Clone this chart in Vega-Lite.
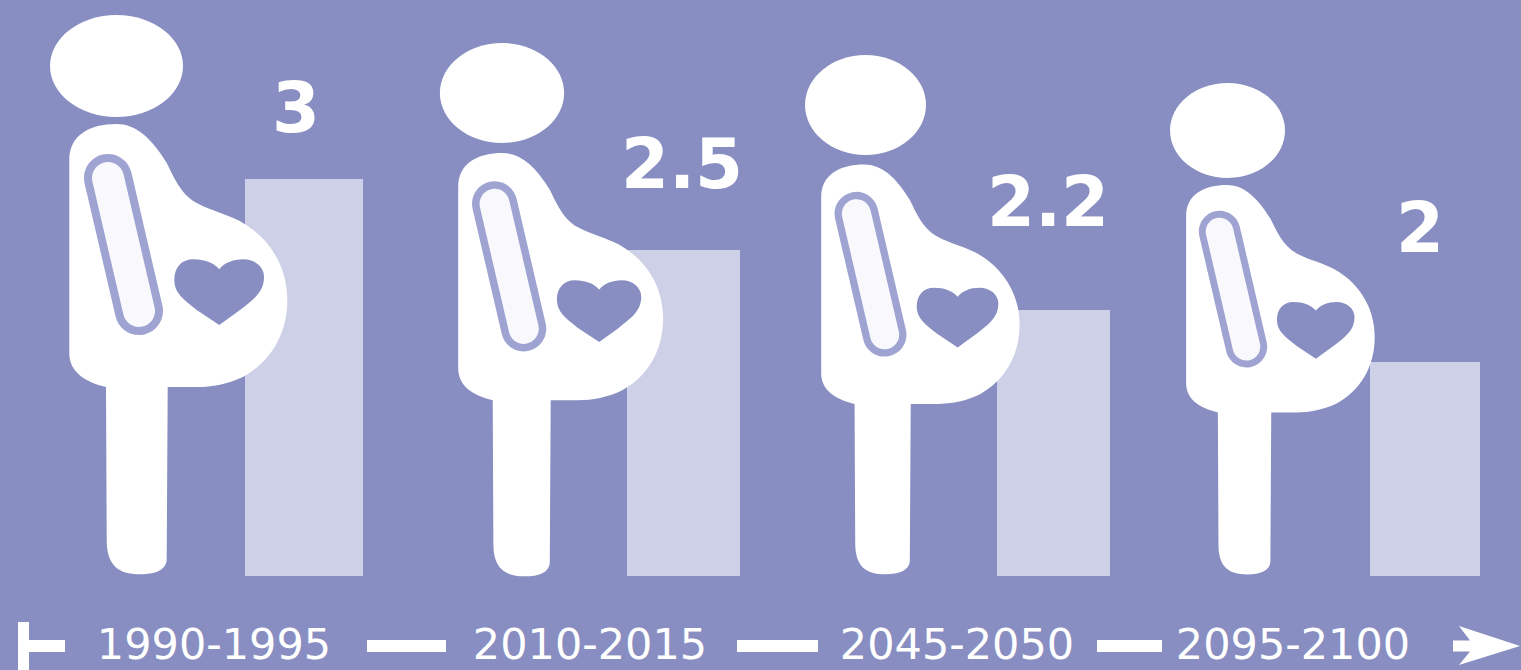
{
"$schema":"https://vega.github.io/schema/vega-lite/v6.json",
"width":1521,"height":670,"padding":0,
"autosize":{"type":"fit","contains":"padding"},
"background":"#888EC1",
"view":{"stroke":null},
"config":{"view":{"stroke":null}},
"datasets":{
"periods":[
{"period":"1990-1995","start":1990,"end":1995,"rate":3},
{"period":"2010-2015","start":2010,"end":2015,"rate":2.5},
{"period":"2045-2050","start":2045,"end":2050,"rate":2.2},
{"period":"2095-2100","start":2095,"end":2100,"rate":2}
],
"figures":[
{"start":1990,"part":"body"},{"start":1990,"part":"strap"},{"start":1990,"part":"strapFill"},{"start":1990,"part":"heart"},
{"start":2010,"part":"body"},{"start":2010,"part":"strap"},{"start":2010,"part":"strapFill"},{"start":2010,"part":"heart"},
{"start":2045,"part":"body"},{"start":2045,"part":"strap"},{"start":2045,"part":"strapFill"},{"start":2045,"part":"heart"},
{"start":2095,"part":"body"},{"start":2095,"part":"strap"},{"start":2095,"part":"strapFill"},{"start":2095,"part":"heart"}
],
"timeline":[
{"piece":"start","year":1980},
{"piece":"dash1","year":2000},
{"piece":"dash2","year":2030},
{"piece":"dash3","year":2070},
{"piece":"arrow","year":2110}
]
},
"layer":[
{"data":{"name":"periods"},
"mark":{"type":"rect","color":"#CDD0E7"},
"encoding":{
"x":{"field":"start","type":"quantitative","axis":null,"scale":{"domain":[1990,1995,2010,2015,2045,2050,2095,2100],"range":[245,363,627,740,997,1110,1370,1480],"zero":false,"nice":false}},
"x2":{"field":"end"},
"y":{"field":"rate","type":"quantitative","axis":null,"stack":null,"scale":{"domain":[0,2,2.2,2.5,3],"range":[576,362,310,250,179],"zero":false,"nice":false}},
"y2":{"datum":0}
}},
{"data":{"name":"periods"},
"mark":{"type":"point","filled":true,"opacity":1,"strokeWidth":0,"color":"#FFFFFF"},
"encoding":{
"x":{"field":"start","type":"quantitative","axis":null,"scale":{"domain":[1990,2010,2045,2095],"range":[116.5,502,865.5,1227.5],"zero":false,"nice":false}},
"y":{"field":"start","type":"quantitative","axis":null,"scale":{"domain":[1990,2010,2045,2095],"range":[66,93,105,130.5],"zero":false,"nice":false}},
"size":{"field":"start","type":"quantitative","legend":null,"scale":{"domain":[1990,2010,2045,2095],"range":[40000,34900,33100,29900],"zero":false,"nice":false}},
"shape":{"field":"period","type":"nominal","legend":null,"scale":{"domain":["1990-1995","2010-2015","2045-2050","2095-2100"],"range":[
"M-.665 0C-.665 -.282 -.367 -.51 0 -.51C.367 -.51 .665 -.282 .665 0C.665 .282 .367 .51 0 .51C-.367 .51 -.665 .282 -.665 0Z",
"M-.665 0C-.665 -.295 -.367 -.535 0 -.535C.367 -.535 .665 -.295 .665 0C.665 .295 .367 .535 0 .535C-.367 .535 -.665 .295 -.665 0Z",
"M-.665 0C-.665 -.303 -.367 -.549 0 -.549C.367 -.549 .665 -.303 .665 0C.665 .303 .367 .549 0 .549C-.367 .549 -.665 .303 -.665 0Z",
"M-.665 0C-.665 -.303 -.367 -.549 0 -.549C.367 -.549 .665 -.303 .665 0C.665 .303 .367 .549 0 .549C-.367 .549 -.665 .303 -.665 0Z"
]}}
}},
{"data":{"name":"figures"},
"mark":{"type":"point","filled":true,"opacity":1,"strokeWidth":0},
"encoding":{
"x":{"field":"start","type":"quantitative","axis":null,"scale":{"domain":[1990,2010,2045,2095],"range":[68,457,820,1185],"zero":false,"nice":false}},
"y":{"field":"start","type":"quantitative","axis":null,"scale":{"domain":[1990,2010,2045,2095],"range":[575,577,575,575],"zero":false,"nice":false}},
"size":{"field":"start","type":"quantitative","legend":null,"scale":{"domain":[1990,2010,2045,2095],"range":[40000,35344,33124,29929],"zero":false,"nice":false}},
"color":{"field":"part","type":"nominal","legend":null,"scale":{"domain":["body","strap","strapFill","heart"],"range":["#FFFFFF","#9EA3D2","#F8F8FD","#888EC1"]}},
"shape":{"field":"part","type":"nominal","legend":null,"scale":{"domain":["body","strap","strapFill","heart"],"range":[
"M.013 -2.22L.013 -4.15C.013 -4.40 .22 -4.51 .487 -4.51C.67 -4.51 .83 -4.38 .987 -4.12C1.05 -4.00 1.12 -3.81 1.287 -3.72C1.47 -3.62 1.67 -3.60 1.853 -3.45C2.07 -3.28 2.193 -3.03 2.193 -2.75C2.193 -2.40 2.02 -2.13 1.753 -1.983C1.60 -1.91 1.44 -1.88 1.287 -1.88L.997 -1.88L.987 -.15C.98 -.05 .87 -.007 .72 -.007C.50 -.007 .387 -.10 .387 -.35L.38 -1.88C.17 -1.93 .013 -2.03 .013 -2.22Z",
"M.634 -4.024L.944 -2.694A.24 .24 0 0 1 .476 -2.586L.166 -3.916A.24 .24 0 0 1 .634 -4.024Z",
"M.556 -4.006L.866 -2.676A.16 .16 0 0 1 .554 -2.604L.244 -3.934A.16 .16 0 0 1 .556 -4.006Z",
"M1.513 -3.057C1.56 -3.12 1.65 -3.157 1.753 -3.157C1.87 -3.157 1.96 -3.08 1.96 -2.983C1.96 -2.83 1.86 -2.76 1.72 -2.65L1.513 -2.50L1.287 -2.65C1.15 -2.76 1.063 -2.82 1.063 -2.95C1.063 -3.08 1.14 -3.157 1.253 -3.157C1.37 -3.157 1.46 -3.12 1.513 -3.057Z"
]}}
}},
{"data":{"name":"periods"},
"mark":{"type":"text","font":"DejaVu Sans","fontWeight":"bold","fontSize":69,"color":"#FFFFFF","align":"center","baseline":"alphabetic"},
"encoding":{
"x":{"field":"start","type":"quantitative","axis":null,"scale":{"domain":[1990,2010,2045,2095],"range":[296,682,1048,1420],"zero":false,"nice":false}},
"y":{"field":"rate","type":"quantitative","axis":null,"stack":null,"scale":{"domain":[2,2.2,2.5,3],"range":[252,226,188,132],"zero":false,"nice":false}},
"text":{"field":"rate","type":"nominal"}
}},
{"data":{"name":"periods"},
"mark":{"type":"text","font":"DejaVu Sans","fontSize":43,"color":"#FFFFFF","align":"center","baseline":"alphabetic"},
"encoding":{
"x":{"field":"start","type":"quantitative","axis":null,"scale":{"domain":[1990,2010,2045,2095],"range":[214,590,957,1293],"zero":false,"nice":false}},
"y":{"value":659},
"text":{"field":"period","type":"nominal"}
}},
{"data":{"name":"timeline"},
"mark":{"type":"point","filled":true,"opacity":1,"strokeWidth":0,"color":"#FFFFFF","size":40000},
"encoding":{
"x":{"field":"year","type":"quantitative","axis":null,"scale":{"domain":[1980,2000,2030,2070,2110],"range":[18,406.5,777.5,1129.5,1453],"zero":false,"nice":false}},
"y":{"value":646},
"shape":{"field":"piece","type":"nominal","legend":null,"scale":{"domain":["start","dash1","dash2","dash3","arrow"],"range":[
"M0 -.24H.11V-.06H.47V.06H.11V.24H0Z",
"M-.395 -.06H.395V.06H-.395Z",
"M-.405 -.06H.405V.06H-.405Z",
"M-.325 -.06H.325V.06H-.325Z",
"M0 -.055H.17L.06 -.2L.67 0L.06 .19L.17 .055H0Z"
]}}
}}
],
"resolve":{"scale":{"x":"independent","y":"independent","size":"independent","shape":"independent","color":"independent"}}
}
